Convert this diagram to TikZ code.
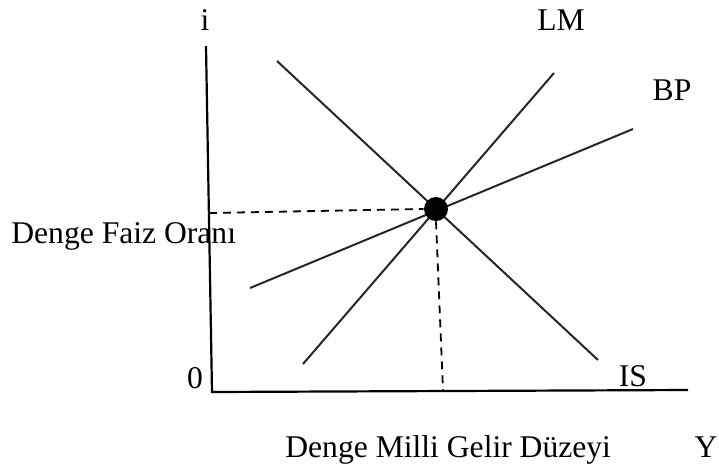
\documentclass[tikz,border=0pt]{standalone}
\usepackage{fontspec}
\setmainfont{Liberation Serif}
\usepackage{tikz}
\usetikzlibrary{positioning,calc}
\tikzset{
  axisline/.style={line width=1.1pt,draw=black},
  curveline/.style={line width=1pt,draw=black!85},
  guideline/.style={line width=0.9pt,dashed,dash pattern=on 4pt off 3pt},
  axislabel/.style={anchor=base,inner sep=0pt,font=\fontsize{15.8}{18}\selectfont},
  eqdot/.style={circle,fill=black,minimum size=12pt,inner sep=0pt},
}

\begin{document}
\begin{tikzpicture}[x=0.5pt,y=-0.5pt]
        \useasboundingbox (0,0) rectangle (719,468);
        % axes
        \coordinate (top) at (206,46);
        \coordinate (origin) at (212,392);
        \coordinate (right) at (688,390);
        \draw[axisline] (top) -- (origin) -- (right);
        % curves
        \coordinate (is1) at (277,61);
        \coordinate (is2) at (598,360);
        \coordinate (lm1) at (303,364);
        \coordinate (lm2) at (554,73);
        \coordinate (bp1) at (250,288);
        \coordinate (bp2) at (633,129);
        \draw[curveline] (is1) -- (is2);
        \draw[curveline] (lm1) -- (lm2);
        \draw[curveline] (bp1) -- (bp2);
        % equilibrium
        \node[eqdot] (eq) at (436,209) {};
        \coordinate (ieq) at (209,213);
        \coordinate (yeq) at (443,390);
        \draw[guideline] (ieq) -- (eq.west);
        \draw[guideline] (eq.south) -- (yeq);
        % labels
        \node[axislabel] (ilab) at (205,30) {i};
        \node[axislabel] (zero) at (195,388) {0};
        \node[axislabel] (lmlab) at (561,30) {LM};
        \node[axislabel] (bplab) at (672,100) {BP};
        \node[axislabel] (islab) at (633,386) {IS};
        \node[axislabel] (ylab) at (706,457) {Y};
        \node[axislabel,anchor=base west] (ylabel) at (285,457) {Denge Milli Gelir Düzeyi};
        \node[axislabel,anchor=base west] (ilabel) at (11,243) {Denge Faiz Oranı};
      \end{tikzpicture}
\end{document}
